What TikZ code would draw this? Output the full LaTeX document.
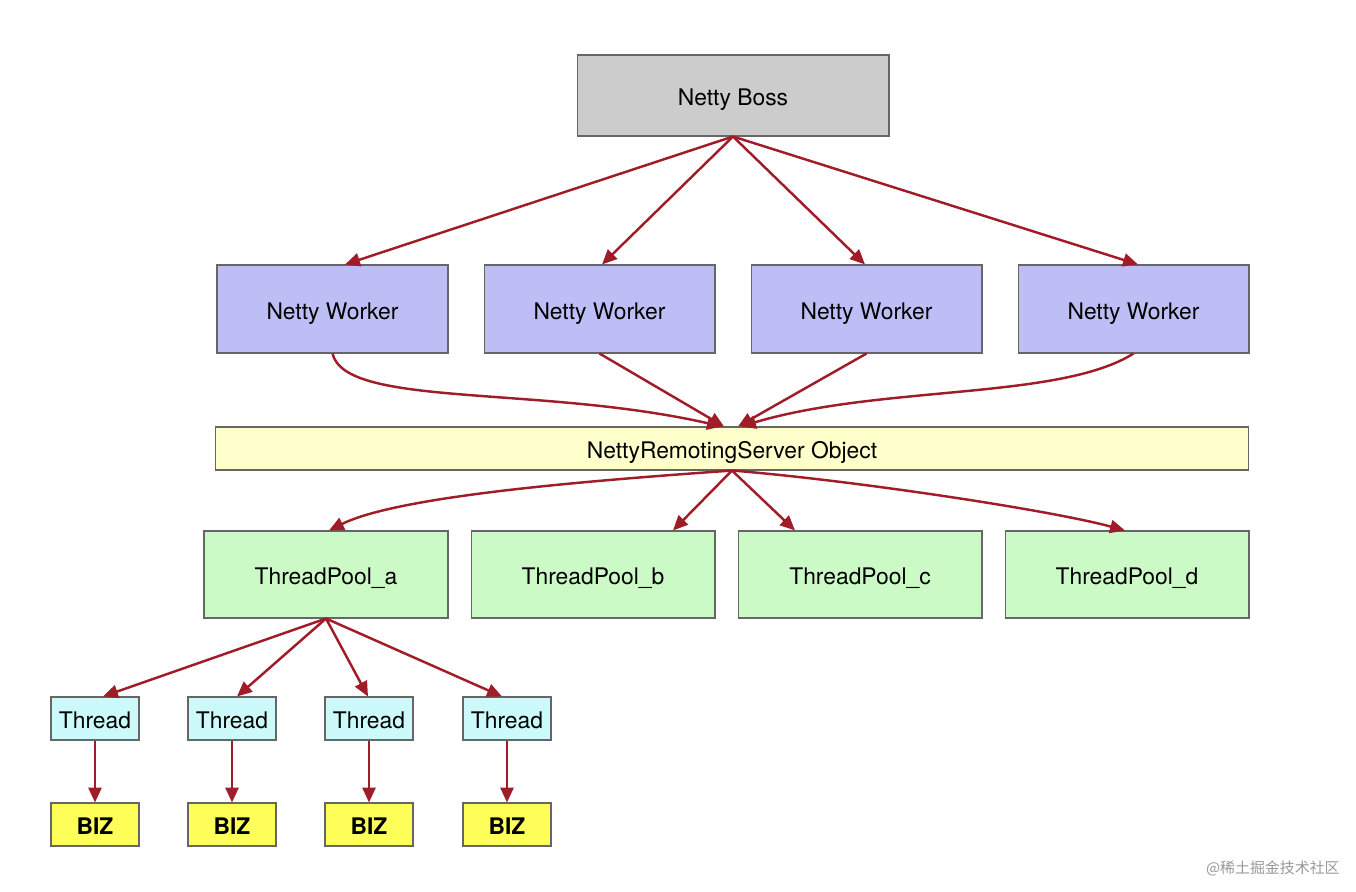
\documentclass[tikz,border=0pt]{standalone}
\usepackage{fontspec}
\setmainfont{TeX Gyre Heros}
\newfontfamily\cjkfont{Noto Sans CJK SC}
\usepackage{tikz}
\usetikzlibrary{arrows.meta, calc, positioning}
\definecolor{linkred}{RGB}{160,28,40}
\definecolor{bossgray}{RGB}{204,204,204}
\definecolor{workerblue}{RGB}{190,190,246}
\definecolor{serveryellow}{RGB}{255,255,204}
\definecolor{poolgreen}{RGB}{204,250,198}
\definecolor{threadcyan}{RGB}{204,250,250}
\definecolor{bizyellow}{RGB}{255,255,90}
\begin{document}
\begin{tikzpicture}[x=0.02cm, y=-0.02cm,
  box/.style={draw=black!60, line width=0.6pt, inner sep=0pt, text height=11.5pt, text depth=0pt,
    font=\fontsize{13}{15}\selectfont},
  link/.style={draw=linkred, line width=1.4pt, -{Triangle[length=8.5pt,width=7.5pt]}}]
\useasboundingbox (0,0) rectangle (1356,892);
% boxes
\node[box, fill=bossgray, minimum width=6.24cm, minimum height=1.62cm] (boss) at (733,95.5) {Netty Boss};
\foreach \i/\x in {1/332.5, 2/599.5, 3/866.5, 4/1133.5}
  \node[box, fill=workerblue, minimum width=4.62cm, minimum height=1.76cm] (w\i) at (\x,309) {Netty Worker};
\node[box, fill=serveryellow, minimum width=20.68cm, minimum height=0.86cm] (srv) at (732,448.5) {NettyRemotingServer Object};
\foreach \n/\x in {a/326, b/593, c/860, d/1127}
  \node[box, fill=poolgreen, minimum width=4.88cm, minimum height=1.74cm] (p\n) at (\x,574.5) {ThreadPool\_\n};
\foreach \i/\x in {1/95, 2/232, 3/369, 4/507}{
  \node[box, fill=threadcyan, minimum width=1.76cm, minimum height=0.86cm] (t\i) at (\x,718.5) {Thread};
  \node[box, fill=bizyellow, minimum width=1.76cm, minimum height=0.86cm] (b\i) at (\x,824.5) {\bfseries BIZ};
}
% links
\foreach \i/\dx in {1/12.5, 2/2.5, 3/-1.5, 4/4.5}
  \draw[link] (boss.south) -- ($(w\i.north)+(\dx,0)$);
\draw[link] (w1.south) .. controls (345,408) and (540,385) .. ($(srv.north)+(-10,0)$);
\draw[link] (w2.south) -- ($(srv.north)+(-8,0)$);
\draw[link] (w3.south) -- ($(srv.north)+(6,0)$);
\draw[link] (w4.south) .. controls (1060,400) and (880,385) .. ($(srv.north)+(9,0)$);
\draw[link] (srv.south) .. controls (600,480) and (400,495) .. ($(pa.north)+(3,0)$);
\draw[link] (srv.south) -- ($(pb.north)+(80,0)$);
\draw[link] (srv.south) -- ($(pc.north)+(-65,0)$);
\draw[link] (srv.south) .. controls (850,480) and (1050,510) .. ($(pd.north)+(-2,0)$);
\foreach \i/\dx in {1/8, 2/5, 3/-1, 4/-5}{
  \draw[link] (pa.south) -- ($(t\i.north)+(\dx,0)$);
  \draw[link] (t\i) -- (b\i);
}
\node[anchor=east, inner sep=0pt, text=black!40, font=\cjkfont\fontsize{8.5}{10}\selectfont] (mark) at (1340,868) {@稀土掘金技术社区};
\end{tikzpicture}
\end{document}
